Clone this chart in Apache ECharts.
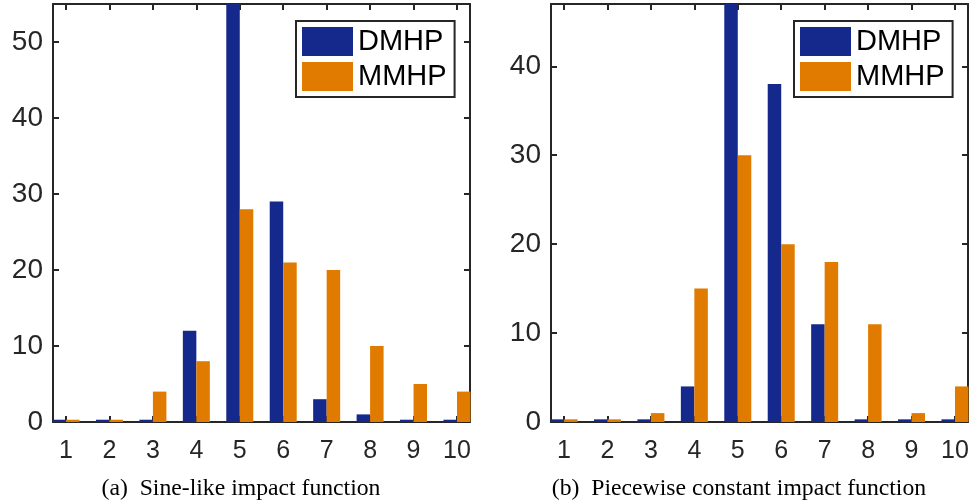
<!DOCTYPE html>
<html>
<head>
<meta charset="utf-8">
<script src="https://cdn.jsdelivr.net/npm/echarts@6/dist/echarts.min.js"></script>
<style>
  html, body { margin: 0; padding: 0; background: #fff; }
  #main { width: 974px; height: 504px; }
</style>
</head>
<body>
<div id="main"></div>
<script>
// bins on the x axis
const categories = [1, 2, 3, 4, 5, 6, 7, 8, 9, 10];
// (a) sine-like impact function (zero bins are drawn as a thin line)
const dmhpSine = [0.3, 0.3, 0.3, 12, 58, 29, 3, 1, 0.3, 0.3];
const mmhpSine = [0.3, 0.3, 4, 8, 28, 21, 20, 10, 5, 4];
// (b) piecewise constant impact function
const dmhpPiece = [0.3, 0.3, 0.3, 4, 52, 38, 11, 0.3, 0.3, 0.3];
const mmhpPiece = [0.3, 0.3, 1, 15, 30, 20, 18, 11, 1, 4];
// tick labels
const yTicksSine = [0, 10, 20, 30, 40, 50];
const yTicksPiece = [0, 10, 20, 30, 40];
const captions = ['(a)  Sine-like impact function', '(b)  Piecewise constant impact function'];

const BLUE = '#15298C';
const ORANGE = '#E07B00';
const INK = '#262626';

const myChart = echarts.init(document.getElementById('main'));

// one boxed panel: bottom/left axes carry labels, top/right only inward ticks
function xAxes(gridIndex) {
  const base = {
    gridIndex: gridIndex,
    type: 'value',
    min: 0.7,
    max: 10.3,
    splitLine: { show: false },
    axisLine: { show: true, onZero: false, lineStyle: { color: INK, width: 2 } },
    axisTick: { show: true, inside: true, length: 6, customValues: categories, lineStyle: { color: INK, width: 2 } }
  };
  return [
    Object.assign({}, base, {
      position: 'bottom',
      axisLabel: { show: true, customValues: categories, margin: 17, fontSize: 25, fontFamily: 'Liberation Sans', color: INK }
    }),
    Object.assign({}, base, { position: 'top', axisLabel: { show: false } })
  ];
}

function yAxes(gridIndex, max, ticks) {
  const base = {
    gridIndex: gridIndex,
    type: 'value',
    min: 0,
    max: max,
    splitLine: { show: false },
    axisLine: { show: true, onZero: false, lineStyle: { color: INK, width: 2 } },
    axisTick: { show: true, inside: true, length: 6, customValues: ticks, lineStyle: { color: INK, width: 2 } }
  };
  return [
    Object.assign({}, base, {
      position: 'left',
      axisLabel: { show: true, customValues: ticks, margin: 10, fontSize: 28, fontFamily: 'Liberation Sans', color: INK }
    }),
    Object.assign({}, base, { position: 'right', axisLabel: { show: false } })
  ];
}

function barSeries(name, color, values, axisIndex) {
  return {
    name: name,
    type: 'bar',
    xAxisIndex: axisIndex,
    yAxisIndex: axisIndex,
    barWidth: 13.5,
    barGap: '0%',
    clip: true,
    itemStyle: { color: color },
    data: categories.map((c, i) => [c, values[i]])
  };
}

function legendAt(left) {
  return {
    left: left,
    top: 21,
    orient: 'vertical',
    icon: 'rect',
    itemWidth: 51,
    itemHeight: 29,
    itemGap: 6,
    padding: [6, 8, 6, 6],
    borderColor: INK,
    borderWidth: 2,
    backgroundColor: '#fff',
    selectedMode: false,
    textStyle: { fontSize: 29, fontFamily: 'Liberation Sans', color: '#000' },
    data: ['DMHP', 'MMHP']
  };
}

const option = {
  backgroundColor: '#fff',
  animation: false,
  grid: [
    { left: 53, right: 504, top: 4, bottom: 82 },
    { left: 551, right: 6, top: 4, bottom: 82 }
  ],
  xAxis: xAxes(0).concat(xAxes(1)),
  yAxis: yAxes(0, 55, yTicksSine).concat(yAxes(1, 47, yTicksPiece)),
  legend: [legendAt(296), legendAt(794)],
  series: [
    barSeries('DMHP', BLUE, dmhpSine, 0),
    barSeries('MMHP', ORANGE, mmhpSine, 0),
    barSeries('DMHP', BLUE, dmhpPiece, 2),
    barSeries('MMHP', ORANGE, mmhpPiece, 2)
  ],
  graphic: [
    { type: 'text', x: 241, y: 489, style: { text: captions[0], align: 'center', verticalAlign: 'middle', font: '23.7px "Liberation Serif"', fill: '#000' } },
    { type: 'text', x: 739, y: 489, style: { text: captions[1], align: 'center', verticalAlign: 'middle', font: '23.7px "Liberation Serif"', fill: '#000' } }
  ]
};

option && myChart.setOption(option);
</script>
</body>
</html>
